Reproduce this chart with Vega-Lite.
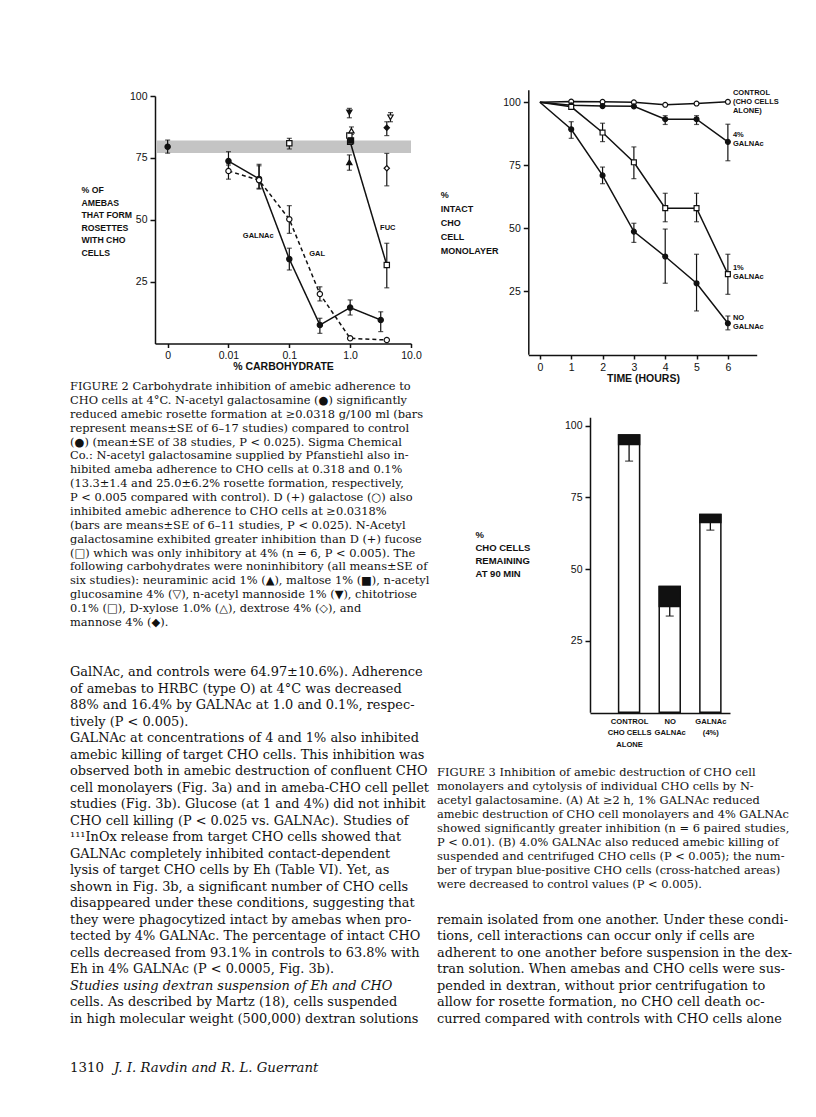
{
"$schema": "https://vega.github.io/schema/vega-lite/v6.json",
"width": 816, "height": 1117, "autosize": {"type": "none"}, "padding": 0, "background": "white",
"config": {
 "view": {"stroke": null},
 "axis": {"grid": false, "domainColor": "#111", "tickColor": "#111", "labelColor": "#111", "titleColor": "#111", "labelFont": "Liberation Sans", "titleFont": "Liberation Sans", "labelFontSize": 10.5, "titleFontWeight": "bold", "domainWidth": 1.5, "tickWidth": 1.5, "labelFlush": false, "labelOverlap": false}
},
"datasets": {
 "fig2band": [{"from": 0.00065, "to": 10, "lo": 77, "hi": 82}],
 "fig2": [
  {"sugar": "Control", "conc": 0.001, "pct": 79.5, "lo": 76.9, "hi": 82.2},
  {"sugar": "GalNAc", "conc": 0.01, "pct": 73.7, "lo": 69.7, "hi": 77.5},
  {"sugar": "GalNAc", "conc": 0.0318, "pct": 66.5, "lo": 62.4, "hi": 72.4},
  {"sugar": "GalNAc", "conc": 0.1, "pct": 34.1, "lo": 29.7, "hi": 38.5},
  {"sugar": "GalNAc", "conc": 0.318, "pct": 7.5, "lo": 4.1, "hi": 10.2},
  {"sugar": "GalNAc", "conc": 1.0, "pct": 14.5, "lo": 11.5, "hi": 17.6},
  {"sugar": "GalNAc", "conc": 3.18, "pct": 9.5, "lo": 4.8, "hi": 12.8},
  {"sugar": "Gal", "conc": 0.01, "pct": 69.7, "lo": 66.4, "hi": 72.1},
  {"sugar": "Gal", "conc": 0.0318, "pct": 66, "lo": 62.7, "hi": 71.8},
  {"sugar": "Gal", "conc": 0.1, "pct": 50.2, "lo": 44.5, "hi": 55.7},
  {"sugar": "Gal", "conc": 0.318, "pct": 20, "lo": 17.2, "hi": 22.9},
  {"sugar": "Gal", "conc": 1.0, "pct": 2.1, "lo": null, "hi": null},
  {"sugar": "Gal", "conc": 4.0, "pct": 1.4, "lo": null, "hi": null},
  {"sugar": "Fuc", "conc": 1.0, "pct": 81.5, "lo": null, "hi": null},
  {"sugar": "Fuc", "conc": 4.0, "pct": 31.7, "lo": 22.5, "hi": 40.5},
  {"sugar": "Chitotriose", "conc": 0.1, "pct": 80.9, "lo": 78.6, "hi": 82.9},
  {"sugar": "Chitotriose", "conc": 0.97, "pct": 84, "lo": null, "hi": null},
  {"sugar": "Neuraminic acid", "conc": 0.97, "pct": 73.2, "lo": 70, "hi": 76.2},
  {"sugar": "Maltose", "conc": 1.03, "pct": 82, "lo": null, "hi": null},
  {"sugar": "N-acetyl mannoside", "conc": 0.97, "pct": 93.4, "lo": 91.2, "hi": 95},
  {"sugar": "D-xylose", "conc": 1.05, "pct": 86, "lo": 84.5, "hi": 87.5},
  {"sugar": "N-acetyl glucosamine", "conc": 4.6, "pct": 91.4, "lo": 89.6, "hi": 93.3},
  {"sugar": "Mannose", "conc": 4.0, "pct": 87.2, "lo": 84, "hi": 89.6},
  {"sugar": "Dextrose", "conc": 4.0, "pct": 70.8, "lo": 63.7, "hi": 76.8}
 ],
 "fig2lab": [
  {"label": "GALNAc", "conc": 0.0309, "pct": 43.6},
  {"label": "GAL", "conc": 0.286, "pct": 36},
  {"label": "FUC", "conc": 4.16, "pct": 46.8}
 ],
 "fig3a": [
  {"series": "Control", "t": 0, "pct": 100}, {"series": "Control", "t": 1, "pct": 100.3}, {"series": "Control", "t": 2, "pct": 100.2}, {"series": "Control", "t": 3, "pct": 100}, {"series": "Control", "t": 4, "pct": 99}, {"series": "Control", "t": 5, "pct": 99.5}, {"series": "Control", "t": 6, "pct": 100.2},
  {"series": "4% GALNAc", "t": 0, "pct": 100}, {"series": "4% GALNAc", "t": 1, "pct": 98.8}, {"series": "4% GALNAc", "t": 2, "pct": 98.5}, {"series": "4% GALNAc", "t": 3, "pct": 98.4}, {"series": "4% GALNAc", "t": 4, "pct": 93.3, "lo": 91.2, "hi": 94.7}, {"series": "4% GALNAc", "t": 5, "pct": 93.3, "lo": 91.2, "hi": 94.7}, {"series": "4% GALNAc", "t": 6, "pct": 84.3, "lo": 76.8, "hi": 91.3},
  {"series": "1% GALNAc", "t": 0, "pct": 100}, {"series": "1% GALNAc", "t": 1, "pct": 98.2}, {"series": "1% GALNAc", "t": 2, "pct": 88, "lo": 84.4, "hi": 91.7}, {"series": "1% GALNAc", "t": 3, "pct": 76.2, "lo": 69.7, "hi": 82.3}, {"series": "1% GALNAc", "t": 4, "pct": 58, "lo": 52.6, "hi": 63.9}, {"series": "1% GALNAc", "t": 5, "pct": 58, "lo": 52.6, "hi": 63.9}, {"series": "1% GALNAc", "t": 6, "pct": 31.8, "lo": 23.8, "hi": 39.7},
  {"series": "No GALNAc", "t": 0, "pct": 100}, {"series": "No GALNAc", "t": 1, "pct": 89.3, "lo": 85.7, "hi": 92.3}, {"series": "No GALNAc", "t": 2, "pct": 71, "lo": 67.7, "hi": 74.3}, {"series": "No GALNAc", "t": 3, "pct": 48.7, "lo": 44.4, "hi": 52}, {"series": "No GALNAc", "t": 4, "pct": 38.8, "lo": 28.2, "hi": 49.7}, {"series": "No GALNAc", "t": 5, "pct": 28.2, "lo": 17.2, "hi": 39.7}, {"series": "No GALNAc", "t": 6, "pct": 12.3, "lo": 9.7, "hi": 15.2}
 ],
 "fig3alab": [
  {"label": "CONTROL", "t": 6.16, "pct": 103.6},
  {"label": "(CHO CELLS", "t": 6.16, "pct": 100.2},
  {"label": "ALONE)", "t": 6.16, "pct": 96.6},
  {"label": "4%", "t": 6.16, "pct": 87.0},
  {"label": "GALNAc", "t": 6.16, "pct": 83.4},
  {"label": "1%", "t": 6.16, "pct": 34.1},
  {"label": "GALNAc", "t": 6.16, "pct": 30.5},
  {"label": "NO", "t": 6.16, "pct": 14.3},
  {"label": "GALNAc", "t": 6.16, "pct": 10.7}
 ],
 "fig3b": [
  {"grp": "CONTROL CHO CELLS ALONE", "pos": 1, "intact": 93.5, "total": 96.8, "lo": 87.7},
  {"grp": "NO GALNAc", "pos": 2, "intact": 36.9, "total": 43.9, "lo": 33.6},
  {"grp": "GALNAc (4%)", "pos": 3, "intact": 66.3, "total": 69.1, "lo": 63.6}
 ],
 "cap2": [
  {"col": "L", "line": 1, "text": "FIGURE 2  Carbohydrate inhibition of amebic adherence to"},
  {"col": "L", "line": 2, "text": "CHO cells at 4°C. N-acetyl galactosamine (●) significantly"},
  {"col": "L", "line": 3, "text": "reduced amebic rosette formation at ≥0.0318 g/100 ml (bars"},
  {"col": "L", "line": 4, "text": "represent means±SE of 6–17 studies) compared to control"},
  {"col": "L", "line": 5, "text": "(●) (mean±SE of 38 studies, P < 0.025). Sigma Chemical"},
  {"col": "L", "line": 6, "text": "Co.: N-acetyl galactosamine supplied by Pfanstiehl also in-"},
  {"col": "L", "line": 7, "text": "hibited ameba adherence to CHO cells at 0.318 and 0.1%"},
  {"col": "L", "line": 8, "text": "(13.3±1.4 and 25.0±6.2% rosette formation, respectively,"},
  {"col": "L", "line": 9, "text": "P < 0.005 compared with control). D (+) galactose (○) also"},
  {"col": "L", "line": 10, "text": "inhibited amebic adherence to CHO cells at ≥0.0318%"},
  {"col": "L", "line": 11, "text": "(bars are means±SE of 6–11 studies, P < 0.025). N-Acetyl"},
  {"col": "L", "line": 12, "text": "galactosamine exhibited greater inhibition than D (+) fucose"},
  {"col": "L", "line": 13, "text": "(□) which was only inhibitory at 4% (n = 6, P < 0.005). The"},
  {"col": "L", "line": 14, "text": "following carbohydrates were noninhibitory (all means±SE of"},
  {"col": "L", "line": 15, "text": "six studies): neuraminic acid 1% (▲), maltose 1% (■), n-acetyl"},
  {"col": "L", "line": 16, "text": "glucosamine 4% (▽), n-acetyl mannoside 1% (▼), chitotriose"},
  {"col": "L", "line": 17, "text": "0.1% (□), D-xylose 1.0% (△), dextrose 4% (◇), and"},
  {"col": "L", "line": 18, "text": "mannose 4% (◆)."}
 ],
 "cap3": [
  {"col": "R", "line": 1, "text": "FIGURE 3  Inhibition of amebic destruction of CHO cell"},
  {"col": "R", "line": 2, "text": "monolayers and cytolysis of individual CHO cells by N-"},
  {"col": "R", "line": 3, "text": "acetyl galactosamine. (A) At ≥2 h, 1% GALNAc reduced"},
  {"col": "R", "line": 4, "text": "amebic destruction of CHO cell monolayers and 4% GALNAc"},
  {"col": "R", "line": 5, "text": "showed significantly greater inhibition (n = 6 paired studies,"},
  {"col": "R", "line": 6, "text": "P < 0.01). (B) 4.0% GALNAc also reduced amebic killing of"},
  {"col": "R", "line": 7, "text": "suspended and centrifuged CHO cells (P < 0.005); the num-"},
  {"col": "R", "line": 8, "text": "ber of trypan blue-positive CHO cells (cross-hatched areas)"},
  {"col": "R", "line": 9, "text": "were decreased to control values (P < 0.005)."}
 ],
 "body": [
  {"col": "L", "line": 1, "text": "GalNAc, and controls were 64.97±10.6%). Adherence"},
  {"col": "L", "line": 2, "text": "of amebas to HRBC (type O) at 4°C was decreased"},
  {"col": "L", "line": 3, "text": "88% and 16.4% by GALNAc at 1.0 and 0.1%, respec-"},
  {"col": "L", "line": 4, "text": "tively (P < 0.005)."},
  {"col": "L", "line": 5, "text": "\u00a0\u00a0\u00a0GALNAc at concentrations of 4 and 1% also inhibited"},
  {"col": "L", "line": 6, "text": "amebic killing of target CHO cells. This inhibition was"},
  {"col": "L", "line": 7, "text": "observed both in amebic destruction of confluent CHO"},
  {"col": "L", "line": 8, "text": "cell monolayers (Fig. 3a) and in ameba-CHO cell pellet"},
  {"col": "L", "line": 9, "text": "studies (Fig. 3b). Glucose (at 1 and 4%) did not inhibit"},
  {"col": "L", "line": 10, "text": "CHO cell killing (P < 0.025 vs. GALNAc). Studies of"},
  {"col": "L", "line": 11, "text": "¹¹¹InOx release from target CHO cells showed that"},
  {"col": "L", "line": 12, "text": "GALNAc completely inhibited contact-dependent"},
  {"col": "L", "line": 13, "text": "lysis of target CHO cells by Eh (Table VI). Yet, as"},
  {"col": "L", "line": 14, "text": "shown in Fig. 3b, a significant number of CHO cells"},
  {"col": "L", "line": 15, "text": "disappeared under these conditions, suggesting that"},
  {"col": "L", "line": 16, "text": "they were phagocytized intact by amebas when pro-"},
  {"col": "L", "line": 17, "text": "tected by 4% GALNAc. The percentage of intact CHO"},
  {"col": "L", "line": 18, "text": "cells decreased from 93.1% in controls to 63.8% with"},
  {"col": "L", "line": 19, "text": "Eh in 4% GALNAc (P < 0.0005, Fig. 3b)."},
  {"col": "L", "line": 20, "text": "\u00a0\u00a0\u00a0Studies using dextran suspension of Eh and CHO"},
  {"col": "L", "line": 21, "text": "cells.  As described by Martz (18), cells suspended"},
  {"col": "L", "line": 22, "text": "in high molecular weight (500,000) dextran solutions"},
  {"col": "R", "line": 16, "text": "remain isolated from one another. Under these condi-"},
  {"col": "R", "line": 17, "text": "tions, cell interactions can occur only if cells are"},
  {"col": "R", "line": 18, "text": "adherent to one another before suspension in the dex-"},
  {"col": "R", "line": 19, "text": "tran solution. When amebas and CHO cells were sus-"},
  {"col": "R", "line": 20, "text": "pended in dextran, without prior centrifugation to"},
  {"col": "R", "line": 21, "text": "allow for rosette formation, no CHO cell death oc-"},
  {"col": "R", "line": 22, "text": "curred compared with controls with CHO cells alone"}
 ],
 "footer": [
  {"part": "page", "text": "1310"},
  {"part": "authors", "text": "J. I. Ravdin and R. L. Guerrant"}
 ]
},
"layer": [
 {
  "layer": [
   {"data": {"name": "fig2band"}, "mark": {"type": "rect", "fill": "#c4c4c4"},
    "encoding": {
     "x": {"field": "from", "type": "quantitative", "scale": {"type": "log", "domain": [0.00062, 10], "range": [155, 411], "nice": false},
      "axis": {"orient": "bottom", "offset": -773.5, "values": [0.001, 0.01, 0.1, 1, 10], "labelExpr": "datum.value < 0.005 ? '0' : datum.value < 0.05 ? '0.01' : datum.value < 0.5 ? '0.1' : datum.value < 5 ? '1.0' : '10.0'", "tickSize": 4, "labelPadding": 3, "title": "% CARBOHYDRATE", "titleX": 283, "titleY": 23, "titleBaseline": "middle", "titleAlign": "center", "titleFontSize": 10.5}},
     "x2": {"field": "to"},
     "y": {"field": "lo", "type": "quantitative", "scale": {"domain": [0, 100], "range": [343.5, 96], "nice": false, "zero": false},
      "axis": {"orient": "left", "offset": -155, "values": [25, 50, 75, 100], "tickSize": 5, "labelPadding": 3, "title": ["% OF", "AMEBAS", "THAT FORM", "ROSETTES", "WITH CHO", "CELLS"], "titleAngle": 0, "titleAlign": "left", "titleBaseline": "alphabetic", "titleX": -74, "titleY": 192.6, "titleLineHeight": 12.5, "titleFontSize": 8.7}},
     "y2": {"field": "hi"}}},
   {"data": {"name": "fig2"}, "transform": [{"filter": "datum.lo != null"}],
    "mark": {"type": "rule", "color": "#111", "strokeWidth": 1.2},
    "encoding": {"x": {"field": "conc", "type": "quantitative"}, "y": {"field": "lo", "type": "quantitative"}, "y2": {"field": "hi"}}},
   {"data": {"name": "fig2"}, "transform": [{"filter": "datum.lo != null"}],
    "mark": {"type": "tick", "orient": "horizontal", "size": 5, "thickness": 1.2, "color": "#111"},
    "encoding": {"x": {"field": "conc", "type": "quantitative"}, "y": {"field": "lo", "type": "quantitative"}}},
   {"data": {"name": "fig2"}, "transform": [{"filter": "datum.lo != null"}],
    "mark": {"type": "tick", "orient": "horizontal", "size": 5, "thickness": 1.2, "color": "#111"},
    "encoding": {"x": {"field": "conc", "type": "quantitative"}, "y": {"field": "hi", "type": "quantitative"}}},
   {"data": {"name": "fig2"}, "transform": [{"filter": "indexof(['GalNAc','Gal','Fuc'], datum.sugar) >= 0"}],
    "mark": {"type": "line", "color": "#111", "strokeWidth": 1.5},
    "encoding": {"x": {"field": "conc", "type": "quantitative"}, "y": {"field": "pct", "type": "quantitative"}, "detail": {"field": "sugar"},
     "strokeDash": {"field": "sugar", "type": "nominal", "scale": {"domain": ["GalNAc", "Gal", "Fuc"], "range": [[1, 0], [4, 3], [1, 0]]}, "legend": null}}},
   {"data": {"name": "fig2"}, "mark": {"type": "point", "filled": true, "stroke": "#111", "strokeWidth": 1.2, "opacity": 1, "size": 28},
    "encoding": {"x": {"field": "conc", "type": "quantitative"}, "y": {"field": "pct", "type": "quantitative"},
     "shape": {"field": "sugar", "type": "nominal", "legend": null, "scale": {"domain": ["Control", "GalNAc", "Gal", "Fuc", "Chitotriose", "Neuraminic acid", "Maltose", "N-acetyl glucosamine", "N-acetyl mannoside", "D-xylose", "Dextrose", "Mannose"], "range": ["circle", "circle", "circle", "square", "square", "triangle-up", "square", "triangle-down", "triangle-down", "triangle-up", "diamond", "diamond"]}},
     "fill": {"field": "sugar", "type": "nominal", "legend": null, "scale": {"domain": ["Control", "GalNAc", "Gal", "Fuc", "Chitotriose", "Neuraminic acid", "Maltose", "N-acetyl glucosamine", "N-acetyl mannoside", "D-xylose", "Dextrose", "Mannose"], "range": ["#111", "#111", "white", "white", "white", "#111", "#111", "white", "#111", "white", "white", "#111"]}}}},
   {"data": {"name": "fig2lab"}, "mark": {"type": "text", "font": "Liberation Sans", "fontWeight": "bold", "fontSize": 7.5, "align": "center", "baseline": "middle", "color": "#111"},
    "encoding": {"x": {"field": "conc", "type": "quantitative"}, "y": {"field": "pct", "type": "quantitative"}, "text": {"field": "label"}}}
  ]
 },
 {
  "layer": [
   {"data": {"name": "fig3a"}, "mark": {"type": "line", "color": "#111", "strokeWidth": 1.5},
    "encoding": {
     "x": {"field": "t", "type": "quantitative", "scale": {"domain": [-0.37, 6.92], "range": [528.3, 756.7], "nice": false, "zero": false},
      "axis": {"orient": "bottom", "offset": -762, "values": [0, 1, 2, 3, 4, 5, 6], "format": "d", "tickSize": 4, "labelPadding": 3, "title": "TIME (HOURS)", "titleX": 643, "titleY": 23.3, "titleBaseline": "middle", "titleAlign": "center", "titleFontSize": 10.5}},
     "y": {"field": "pct", "type": "quantitative", "scale": {"domain": [0, 105], "range": [354.3, 89.7], "nice": false, "zero": false},
      "axis": {"orient": "left", "offset": -528.3, "values": [25, 50, 75, 100], "tickSize": 5, "labelPadding": 3, "title": ["%", "INTACT", "CHO", "CELL", "MONOLAYER"], "titleAngle": 0, "titleAlign": "left", "titleBaseline": "alphabetic", "titleX": -88, "titleY": 197, "titleLineHeight": 14, "titleFontSize": 9}},
     "detail": {"field": "series"}}},
   {"data": {"name": "fig3a"}, "transform": [{"filter": "datum.lo != null"}],
    "mark": {"type": "rule", "color": "#111", "strokeWidth": 1.2},
    "encoding": {"x": {"field": "t", "type": "quantitative"}, "y": {"field": "lo", "type": "quantitative"}, "y2": {"field": "hi"}}},
   {"data": {"name": "fig3a"}, "transform": [{"filter": "datum.lo != null"}],
    "mark": {"type": "tick", "orient": "horizontal", "size": 5, "thickness": 1.2, "color": "#111"},
    "encoding": {"x": {"field": "t", "type": "quantitative"}, "y": {"field": "lo", "type": "quantitative"}}},
   {"data": {"name": "fig3a"}, "transform": [{"filter": "datum.lo != null"}],
    "mark": {"type": "tick", "orient": "horizontal", "size": 5, "thickness": 1.2, "color": "#111"},
    "encoding": {"x": {"field": "t", "type": "quantitative"}, "y": {"field": "hi", "type": "quantitative"}}},
   {"data": {"name": "fig3a"}, "transform": [{"filter": "datum.t > 0"}],
    "mark": {"type": "point", "filled": true, "stroke": "#111", "strokeWidth": 1.2, "opacity": 1, "size": 24},
    "encoding": {"x": {"field": "t", "type": "quantitative"}, "y": {"field": "pct", "type": "quantitative"},
     "shape": {"field": "series", "type": "nominal", "legend": null, "scale": {"domain": ["Control", "4% GALNAc", "1% GALNAc", "No GALNAc"], "range": ["circle", "circle", "square", "circle"]}},
     "fill": {"field": "series", "type": "nominal", "legend": null, "scale": {"domain": ["Control", "4% GALNAc", "1% GALNAc", "No GALNAc"], "range": ["white", "#111", "white", "#111"]}}}},
   {"data": {"name": "fig3alab"}, "mark": {"type": "text", "font": "Liberation Sans", "fontWeight": "bold", "fontSize": 7.5, "align": "left", "baseline": "middle", "color": "#111"},
    "encoding": {"x": {"field": "t", "type": "quantitative"}, "y": {"field": "pct", "type": "quantitative"}, "text": {"field": "label"}}}
  ]
 },
 {
  "data": {"name": "fig3b"},
  "layer": [
   {"mark": {"type": "bar", "fill": "white", "stroke": "#111", "strokeWidth": 1.5, "width": 21},
    "encoding": {
     "x": {"field": "pos", "type": "quantitative", "scale": {"domain": [0.161, 3.36], "range": [590, 730], "nice": false, "zero": false},
      "axis": {"orient": "bottom", "offset": -404, "values": [1, 2, 3], "ticks": false, "labelPadding": 4, "labelFontSize": 7.6, "labelFontWeight": "bold", "labelLineHeight": 11.5, "labelBaseline": "top", "labelExpr": "datum.value < 1.5 ? ['CONTROL', 'CHO CELLS', 'ALONE'] : datum.value < 2.5 ? ['NO', 'GALNAc'] : ['GALNAc', '(4%)']", "title": null}},
     "y": {"field": "total", "type": "quantitative", "scale": {"domain": [0, 103], "range": [712.3, 417.3], "nice": false, "zero": false},
      "axis": {"orient": "left", "offset": -590, "values": [25, 50, 75, 100], "tickSize": 5, "labelPadding": 3, "title": ["%", "CHO CELLS", "REMAINING", "AT 90 MIN"], "titleAngle": 0, "titleAlign": "left", "titleBaseline": "alphabetic", "titleX": -115, "titleY": 537, "titleLineHeight": 13.3, "titleFontSize": 9.5}},
     "y2": {"datum": 0}}},
   {"mark": {"type": "bar", "fill": "#111", "stroke": "#111", "strokeWidth": 1.5, "width": 21},
    "encoding": {"x": {"field": "pos", "type": "quantitative"}, "y": {"field": "intact", "type": "quantitative"}, "y2": {"field": "total"}}},
   {"mark": {"type": "rule", "color": "#111", "strokeWidth": 1.3},
    "encoding": {"x": {"field": "pos", "type": "quantitative"}, "y": {"field": "lo", "type": "quantitative"}, "y2": {"field": "intact"}}},
   {"mark": {"type": "tick", "orient": "horizontal", "size": 8, "thickness": 1.3, "color": "#111"},
    "encoding": {"x": {"field": "pos", "type": "quantitative"}, "y": {"field": "lo", "type": "quantitative"}}}
  ]
 },
 {"data": {"name": "cap2"}, "mark": {"type": "text", "font": "DejaVu Serif", "fontSize": 11.4, "align": "left", "baseline": "middle", "color": "#111"},
  "encoding": {"x": {"field": "col", "type": "nominal", "scale": {"type": "point", "domain": ["L", "R"], "range": [70, 437], "padding": 0}, "axis": null},
   "y": {"field": "line", "type": "quantitative", "scale": {"domain": [1, 18], "range": [387, 623], "nice": false, "zero": false}, "axis": null},
   "text": {"field": "text"}}},
 {"data": {"name": "cap3"}, "mark": {"type": "text", "font": "DejaVu Serif", "fontSize": 11.4, "align": "left", "baseline": "middle", "color": "#111"},
  "encoding": {"x": {"field": "col", "type": "nominal", "scale": {"type": "point", "domain": ["L", "R"], "range": [70, 437], "padding": 0}, "axis": null},
   "y": {"field": "line", "type": "quantitative", "scale": {"domain": [1, 9], "range": [773, 885], "nice": false, "zero": false}, "axis": null},
   "text": {"field": "text"}}},
 {"data": {"name": "body"},
  "encoding": {"x": {"field": "col", "type": "nominal", "scale": {"type": "point", "domain": ["L", "R"], "range": [70, 437], "padding": 0}, "axis": null},
   "y": {"field": "line", "type": "quantitative", "scale": {"domain": [1, 22], "range": [672, 1018.5], "nice": false, "zero": false}, "axis": null},
   "text": {"field": "text"}},
  "layer": [
   {"transform": [{"filter": "!(datum.col == 'L' && datum.line == 20)"}], "mark": {"type": "text", "font": "DejaVu Serif", "fontSize": 12.9, "align": "left", "baseline": "middle", "color": "#111"}},
   {"transform": [{"filter": "datum.col == 'L' && datum.line == 20"}], "mark": {"type": "text", "font": "DejaVu Serif", "fontStyle": "italic", "fontSize": 12.9, "align": "left", "baseline": "middle", "color": "#111"}}
  ]},
 {"data": {"name": "footer"},
  "encoding": {"x": {"field": "part", "type": "nominal", "scale": {"type": "point", "domain": ["page", "authors"], "range": [70, 114], "padding": 0}, "axis": null},
   "y": {"field": "part", "type": "nominal", "scale": {"type": "point", "domain": ["page", "authors"], "range": [1068, 1068], "padding": 0}, "axis": null},
   "text": {"field": "text"}},
  "layer": [
   {"transform": [{"filter": "datum.part == 'page'"}], "mark": {"type": "text", "font": "DejaVu Serif", "fontSize": 13.3, "align": "left", "baseline": "middle", "color": "#111"}},
   {"transform": [{"filter": "datum.part == 'authors'"}], "mark": {"type": "text", "font": "DejaVu Serif", "fontStyle": "italic", "fontSize": 13.3, "align": "left", "baseline": "middle", "color": "#111"}}
  ]}
],
"resolve": {"scale": {"x": "independent", "y": "independent", "shape": "independent", "fill": "independent", "strokeDash": "independent"}, "axis": {"x": "independent", "y": "independent"}}
}
